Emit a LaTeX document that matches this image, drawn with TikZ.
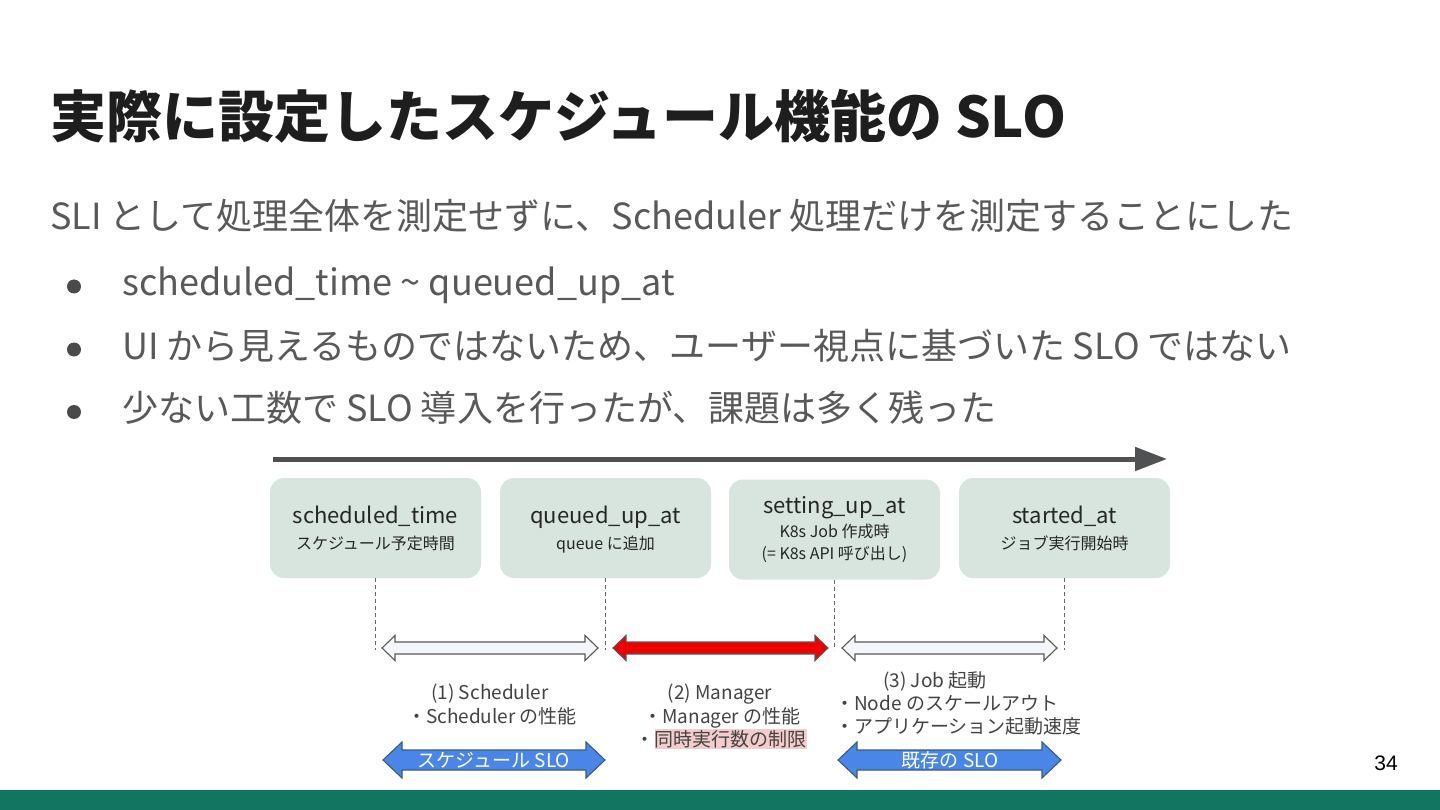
\documentclass[tikz,border=0pt]{standalone}
\usepackage{fontspec}
\setmainfont{Noto Sans CJK JP}
\newfontfamily\arialf{Liberation Sans}
\usetikzlibrary{arrows.meta}
\definecolor{titlec}{HTML}{1E1E1E}
\definecolor{bodyc}{HTML}{595959}
\definecolor{dotc}{HTML}{4A4A4A}
\definecolor{boxc}{HTML}{D7E5DE}
\definecolor{boxtxt}{HTML}{262626}
\definecolor{lblc}{HTML}{434343}
\definecolor{tlc}{HTML}{4F5153}
\definecolor{dashc}{HTML}{666666}
\definecolor{hollowf}{HTML}{F3F6FA}
\definecolor{arrstroke}{HTML}{595959}
\definecolor{redf}{HTML}{EE0000}
\definecolor{bluef}{HTML}{4A86E8}
\definecolor{bluestroke}{HTML}{3D5A80}
\definecolor{hlc}{HTML}{F4CCCC}
\definecolor{barc}{HTML}{117561}
\newcommand{\fsz}[2]{\fontsize{#1}{#2}\selectfont}
% style, x1, x2, yc, head half height, shaft half height, head length
\newcommand{\darrow}[7]{%
  \draw[#1] (#2,#4) -- (#2+#7,#4-#5) -- (#2+#7,#4-#6) -- (#3-#7,#4-#6)
    -- (#3-#7,#4-#5) -- (#3,#4) -- (#3-#7,#4+#5) -- (#3-#7,#4+#6)
    -- (#2+#7,#4+#6) -- (#2+#7,#4+#5) -- cycle;}
\begin{document}
\begin{tikzpicture}[x=1pt,y=-1pt,
  titletxt/.style={anchor=base west,inner sep=0,text=titlec,font=\bfseries\fsz{56}{66}},
  bodytxt/.style={anchor=base west,inner sep=0,text=bodyc,font=\fsz{36}{42}},
  tbox/.style={fill=boxc,rounded corners=14pt,minimum width=211pt,minimum height=100pt,inner sep=0},
  maintxt/.style={anchor=base,inner sep=0,text=boxtxt,font=\fsz{22}{26}},
  subtxt/.style={anchor=base,inner sep=0,text=boxtxt,font=\fsz{16}{19}},
  dashline/.style={draw=dashc,line width=1pt,dash pattern=on 4pt off 3pt},
  lbl/.style={inner sep=0,text=lblc,font=\fsz{19}{23}},
  sloTxt/.style={anchor=base,inner sep=0,text=white,font=\fsz{19}{23}},
  hollow/.style={fill=hollowf,draw=arrstroke,line width=1.1pt,line join=miter},
  redarr/.style={fill=redf,draw=arrstroke,line width=1.1pt,line join=miter},
  bluearr/.style={fill=bluef,draw=bluestroke,line width=1.1pt,line join=miter}]
\useasboundingbox (0,0) rectangle (1440,810);
\fill[white] (0,0) rectangle (1440,810);
\fill[barc] (0,790) rectangle (1440,810);

% title and text
\node[titletxt] (title) at (50,137.5) {実際に設定したスケジュール機能の SLO};
\node[bodytxt] (sub) at (50,230) {SLI として処理全体を測定せずに、Scheduler 処理だけを測定することにした};
\fill[dotc] (74,286.5) circle (7pt);
\fill[dotc] (74,349.5) circle (7pt);
\fill[dotc] (74,412) circle (7pt);
\node[bodytxt] (bl1) at (122,296) {scheduled\_time \char"7E{} queued\_up\_at};
\node[bodytxt] (bl2) at (122,359) {UI から見えるものではないため、ユーザー視点に基づいた SLO ではない};
\node[bodytxt] (bl3) at (122,421) {少ない工数で SLO 導入を行ったが、課題は多く残った};

% timeline
\coordinate (tl0) at (273,459);
\coordinate (tl1) at (1167,459);
\draw[tlc,line width=5pt,-{Triangle[length=32pt,width=23pt]}] (tl0) -- (tl1);

% boxes
\node[tbox] (b1) at (375.5,528) {};
\node[tbox] (b2) at (605.5,528) {};
\node[tbox] (b3) at (834.5,529.5) {};
\node[tbox] (b4) at (1064.5,528) {};
\node[maintxt] (b1t) at (375.5,523) {scheduled\_time};
\node[subtxt] (b1s) at (375.5,549) {スケジュール予定時間};
\node[maintxt] (b2t) at (605.5,523) {queued\_up\_at};
\node[subtxt] (b2s) at (605.5,549) {queue に追加};
\node[maintxt] (b3t) at (834.5,513) {setting\_up\_at};
\node[subtxt] (b3s) at (834.5,537) {K8s Job 作成時};
\node[subtxt] (b3u) at (834.5,559) {(= K8s API 呼び出し)};
\node[maintxt] (b4t) at (1064.5,523) {started\_at};
\node[subtxt] (b4s) at (1064.5,549) {ジョブ実行開始時};

% dashed drop lines
\draw[dashline] (b1.south) -- ++(0,72);
\draw[dashline] (b2.south) -- ++(0,72);
\draw[dashline] (b3.south) -- ++(0,70);
\draw[dashline] (b4.south) -- ++(0,72);

% interval arrows
\darrow{hollow}{382}{598}{648}{12.5}{6}{13}
\darrow{redarr}{613}{828}{648}{12.5}{6}{13}
\darrow{hollow}{842}{1057}{648}{12.5}{6}{13}

% labels
\node[lbl,anchor=base] (l1a) at (490,699) {(1) Scheduler};
\node[lbl,anchor=base] (l1b) at (492,723) {・Scheduler の性能};
\node[lbl,anchor=base] (l2a) at (720,699) {(2) Manager};
\node[lbl,anchor=base] (l2b) at (722,723) {・Manager の性能};
\node[lbl,anchor=base east,fill=hlc,inner ysep=1.5pt] (l2c) at (807,746) {同時実行数の制限};
\node[lbl,anchor=base east] (l2d) at (l2c.base west) {・};
\node[lbl,anchor=base] (l3a) at (935,687) {(3) Job 起動};
\node[lbl,anchor=base west] (l3b) at (835,710) {・Node のスケールアウト};
\node[lbl,anchor=base west] (l3c) at (835,733) {・アプリケーション起動速度};

% SLO arrows
\darrow{bluearr}{383}{605}{760}{18}{10}{19}
\darrow{bluearr}{838}{1061}{760}{18}{10}{19}
\node[sloTxt] (slo1) at (494,767) {スケジュール SLO};
\node[sloTxt] (slo2) at (950,767) {既存の SLO};

% page number
\node[anchor=base,inner sep=0,font=\arialf\fsz{21}{25}] (pg) at (1386,770) {34};
\end{tikzpicture}
\end{document}
